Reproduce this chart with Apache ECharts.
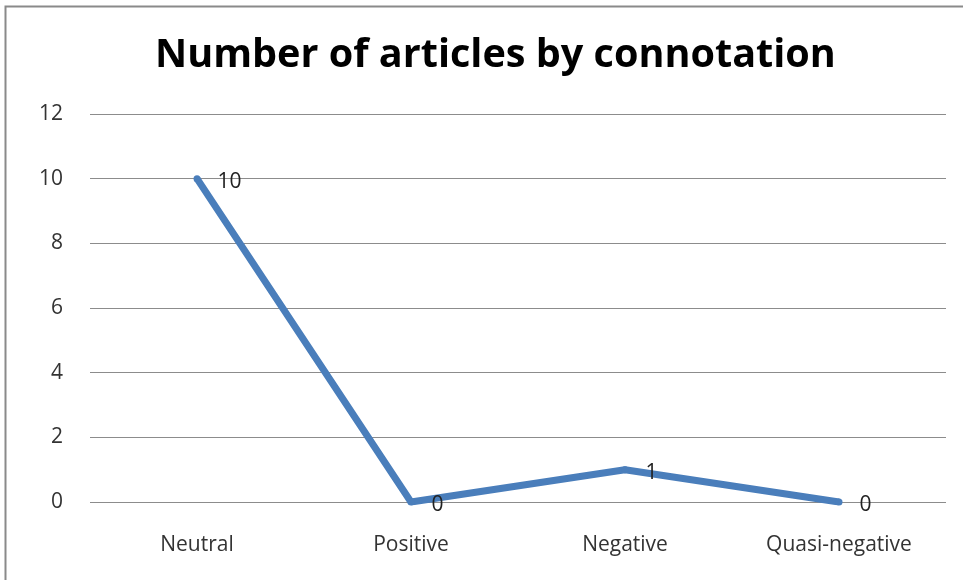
<!DOCTYPE html>
<html><head><meta charset="utf-8">
<script src="https://cdn.jsdelivr.net/npm/echarts@6/dist/echarts.min.js"></script>
<style>html,body{margin:0;padding:0;background:#fff}#c{width:963px;height:580px}</style>
</head><body><div id="c"></div>
<script>
const titleText = "Number of articles by connotation";
const categories = ["Neutral", "Positive", "Negative", "Quasi-negative"];
const articleCounts = [10, 0, 1, 0];
const yTicks = [0, 2, 4, 6, 8, 10, 12];

const chart = echarts.init(document.getElementById('c'));
chart.setOption({
  animation: false,
  backgroundColor: '#fff',
  title: {
    text: titleText, left: 150, top: 31,
    textStyle: { fontFamily: 'Open Sans', fontWeight: 'bold', fontSize: 39.6, color: '#000' }
  },
  graphic: [{
    type: 'rect', shape: { x: 5.5, y: 6.5, width: 1200, height: 1200 },
    style: { fill: 'none', stroke: '#8a8a8a', lineWidth: 2 }, silent: true
  }],
  grid: { left: 90, right: 17, top: 114, bottom: 78 },
  xAxis: {
    type: 'category', data: categories, boundaryGap: true,
    axisLine: { show: false }, axisTick: { show: false },
    axisLabel: { fontFamily: 'Open Sans', fontSize: 21, color: '#333', margin: 33 }
  },
  yAxis: {
    type: 'value', min: yTicks[0], max: yTicks[yTicks.length - 1], interval: 2,
    axisLine: { show: false }, axisTick: { show: false },
    axisLabel: { fontFamily: 'Open Sans', fontSize: 21, color: '#333', margin: 27 },
    splitLine: { lineStyle: { color: '#8c8c8c', width: 1 } }
  },
  series: [{
    type: 'line', data: articleCounts,
    symbol: 'circle', symbolSize: 7, showSymbol: true,
    itemStyle: { color: '#4a7ebb' },
    lineStyle: { color: '#4a7ebb', width: 7 },
    label: {
      show: true, position: 'right', distance: 17,
      fontFamily: 'Open Sans', fontSize: 21, color: '#222', offset: [0, 3]
    }
  }]
});
</script></body></html>
